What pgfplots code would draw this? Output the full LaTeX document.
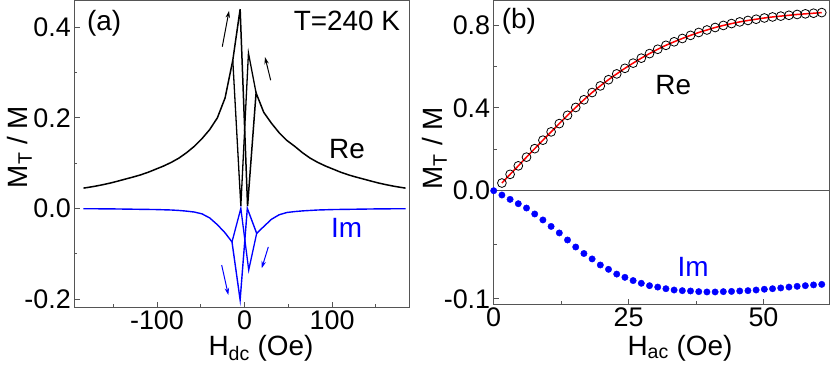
\documentclass[border=0pt]{standalone}
\usepackage{fontspec}
\setmainfont{Liberation Sans}
\usepackage{pgfplots}
\pgfplotsset{compat=1.18}
\usetikzlibrary{arrows.meta}

\definecolor{axgray}{RGB}{85,85,85}
\newcommand{\lblfont}{\fontsize{28}{30}\selectfont}
\newcommand{\tickfont}{\fontsize{27}{28}\selectfont}

\pgfplotsset{
  panel/.style={
    scale only axis,
    anchor=south west,
    axis line style={axgray, line width=1bp},
    every tick/.style={axgray, line width=1bp},
    tick align=inside,
    xtick pos=left, ytick pos=left,
    major tick length=5.5bp, minor tick length=3bp,
    tick label style={font=\tickfont},
  }
}

\begin{document}
\begin{tikzpicture}
\useasboundingbox (0,0) rectangle (830bp,368bp);

% ---------- (a) ----------
\begin{axis}[panel, at={(74.3bp,60.7bp)}, width=335bp, height=306.8bp,
  xmin=-194.5, xmax=188.3, ymin=-0.2183, ymax=0.459,
  xtick={-100,0,100}, xticklabels={-100,0,100},
  minor xtick={-150,-50,50,150},
  ytick={-0.2,0,0.2,0.4}, yticklabels={-0.2,0.0,0.2,0.4},
  minor ytick={-0.1,0.1,0.3}]
% Re, sweep up
\addplot[black, line width=1.5bp] coordinates {
 (-184,0.0448)(-180.6,0.0458)(-171.8,0.0486)(-163,0.0519)(-154.2,0.0556)
 (-145.4,0.0599)(-136.6,0.0645)(-127.8,0.069)(-119,0.0739)(-110.2,0.0797)
 (-101.4,0.0866)(-92.6,0.0935)(-83.8,0.1015)(-75,0.111)(-66.2,0.123)
 (-57.4,0.137)(-48.6,0.154)(-39.8,0.174)(-31,0.200)(-22.2,0.244)
 (-13.4,0.327)(-5,0.44)(3.5,0.005)(13.2,0.255)(22,0.212)(30.8,0.188)
 (39.6,0.167)(48.4,0.150)(57.4,0.137)(66.2,0.123)(75,0.111)(83.8,0.1015)
 (92.6,0.0935)(101.4,0.0866)(110.2,0.0797)(119,0.0739)(127.8,0.069)
 (136.6,0.0645)(145.4,0.0599)(154.2,0.0556)(163,0.0519)(171.8,0.0486)
 (180.6,0.0458)(184,0.0448)};
% Re, sweep down (centre part)
\addplot[black, line width=1.3bp] coordinates {
 (13.2,0.255)(4.5,0.343)(-4.2,0.005)(-13.4,0.327)};
% Im, sweep up
\addplot[blue, line width=1.4bp] coordinates {
 (-184,-0.0007)(-171.8,-0.0008)(-154.2,-0.001)(-136.6,-0.0015)(-119,-0.002)
 (-101.4,-0.0025)(-92.6,-0.003)(-83.8,-0.0035)(-75,-0.0045)(-66.2,-0.006)
 (-57.4,-0.008)(-48.6,-0.012)(-39.8,-0.021)(-31,-0.036)(-22.2,-0.054)
 (-14.3,-0.074)(-5,-0.202)(3.2,0)(13.9,-0.055)(22,-0.040)(30.8,-0.024)
 (39.6,-0.014)(48.4,-0.009)(57.4,-0.007)(66.2,-0.0055)(75,-0.0045)
 (83.8,-0.0035)(92.6,-0.003)(101.4,-0.0025)(119,-0.002)(136.6,-0.0015)
 (154.2,-0.001)(171.8,-0.0008)(184,-0.0007)};
% Im, sweep down (centre part)
\addplot[blue, line width=1.3bp] coordinates {
 (13.9,-0.055)(4.8,-0.136)(-4.2,0)(-14.3,-0.074)};
% sweep arrows
\draw[black, line width=1bp, -{Stealth[length=7bp,width=4.5bp]}] (axis cs:-25.4,0.357) -- (axis cs:-17.7,0.436);
\draw[black, line width=1bp, -{Stealth[length=7bp,width=4.5bp]}] (axis cs:29.9,0.283) -- (axis cs:23.4,0.334);
\draw[blue, line width=1bp, -{Stealth[length=7bp,width=4.5bp]}] (axis cs:-26.1,-0.125) -- (axis cs:-18.5,-0.191);
\draw[blue, line width=1bp, -{Stealth[length=7bp,width=4.5bp]}] (axis cs:27.2,-0.085) -- (axis cs:19.7,-0.132);
\end{axis}

% ---------- (b) upper: Re ----------
\begin{axis}[panel, at={(493.7bp,177.3bp)}, width=335.6bp, height=189.7bp,
  xmin=0, xmax=62.2, ymin=0, ymax=0.916,
  xtick=\empty,
  ytick={0,0.4,0.8}, yticklabels={0.0,0.4,0.8},
  minor ytick={0.2,0.6}]
\addplot[only marks, mark=o, mark size=4.4bp, mark options={black, line width=0.8bp}] coordinates {
 (1.52,0.037)(3.04,0.079)(4.56,0.120)(6.08,0.162)(7.60,0.203)(9.12,0.244)
 (10.64,0.284)(12.16,0.324)(13.68,0.364)(15.20,0.402)(16.72,0.439)(18.24,0.474)
 (19.76,0.506)(21.28,0.536)(22.80,0.564)(24.32,0.591)(25.84,0.616)(27.36,0.640)
 (28.88,0.662)(30.40,0.683)(31.92,0.702)(33.44,0.719)(34.96,0.735)(36.48,0.750)
 (38.00,0.764)(39.52,0.776)(41.04,0.788)(42.56,0.798)(44.08,0.807)(45.60,0.815)
 (47.12,0.822)(48.64,0.828)(50.16,0.834)(51.68,0.839)(53.20,0.843)(54.72,0.847)
 (56.24,0.851)(57.76,0.854)(59.28,0.857)(60.80,0.860)};
\addplot[red, line width=1.5bp, smooth] coordinates {
 (1.52,0.037)(3.04,0.079)(4.56,0.120)(6.08,0.162)(7.60,0.203)(9.12,0.244)
 (10.64,0.284)(12.16,0.324)(13.68,0.364)(15.20,0.402)(16.72,0.439)(18.24,0.474)
 (19.76,0.506)(21.28,0.536)(22.80,0.564)(24.32,0.591)(25.84,0.616)(27.36,0.640)
 (28.88,0.662)(30.40,0.683)(31.92,0.702)(33.44,0.719)(34.96,0.735)(36.48,0.750)
 (38.00,0.764)(39.52,0.776)(41.04,0.788)(42.56,0.798)(44.08,0.807)(45.60,0.815)
 (47.12,0.822)(48.64,0.828)(50.16,0.834)(51.68,0.839)(53.20,0.843)(54.72,0.847)
 (56.24,0.851)(57.76,0.854)(59.28,0.857)(60.80,0.860)};
\end{axis}

% ---------- (b) lower: Im ----------
\begin{axis}[panel, at={(493.7bp,63.7bp)}, width=335.6bp, height=113.6bp,
  xmin=0, xmax=62.2, ymin=-0.1049, ymax=0,
  xtick={0,25,50}, xticklabels={0,25,50},
  minor xtick={12.5,37.5},
  ytick={-0.1}, yticklabels={-0.1},
  minor ytick={-0.05}]
\addplot[only marks, mark=*, mark size=3.2bp, mark options={blue, draw=blue}] coordinates {
 (0,0)(1.52,-0.004)(3.04,-0.008)(4.56,-0.012)(6.08,-0.016)(7.60,-0.0215)
 (9.12,-0.027)(10.64,-0.033)(12.16,-0.039)(13.68,-0.0455)(15.20,-0.052)
 (16.72,-0.058)(18.24,-0.063)(19.76,-0.0686)(21.28,-0.0726)(22.80,-0.077)
 (24.32,-0.080)(25.84,-0.083)(27.36,-0.0855)(28.88,-0.0877)(30.40,-0.089)
 (31.92,-0.0905)(33.44,-0.0917)(34.96,-0.0923)(36.48,-0.0926)(38.00,-0.0932)
 (39.52,-0.0935)(41.04,-0.0935)(42.56,-0.0932)(44.08,-0.093)(45.60,-0.0926)
 (47.12,-0.0923)(48.64,-0.0917)(50.16,-0.091)(51.68,-0.0905)(53.20,-0.0898)
 (54.72,-0.089)(56.24,-0.0883)(57.76,-0.0877)(59.28,-0.087)(60.80,-0.0865)};
\end{axis}

% ---------- labels ----------
\node[anchor=base, rotate=90, font=\lblfont] at (27bp,221bp) {M\textsubscript{T} / M};
\node[anchor=base, rotate=90, font=\lblfont] at (442bp,219.7bp) {M\textsubscript{T} / M};
\node[anchor=base, font=\lblfont] at (261bp,13bp) {H\textsubscript{dc} (Oe)};
\node[anchor=base, font=\lblfont] at (680bp,13bp) {H\textsubscript{ac} (Oe)};
\node[anchor=base, font=\lblfont] at (104.2bp,337bp) {(a)};
\node[anchor=base, font=\lblfont] at (347bp,337bp) {T=240 K};
\node[anchor=base, font=\lblfont] at (347bp,209bp) {Re};
\node[anchor=base, font=\lblfont, text=blue] at (346.7bp,130bp) {Im};
\node[anchor=base, font=\lblfont] at (518.8bp,339bp) {(b)};
\node[anchor=base, font=\lblfont] at (673.3bp,273bp) {Re};
\node[anchor=base, font=\lblfont, text=blue] at (693bp,91.3bp) {Im};
\end{tikzpicture}
\end{document}
